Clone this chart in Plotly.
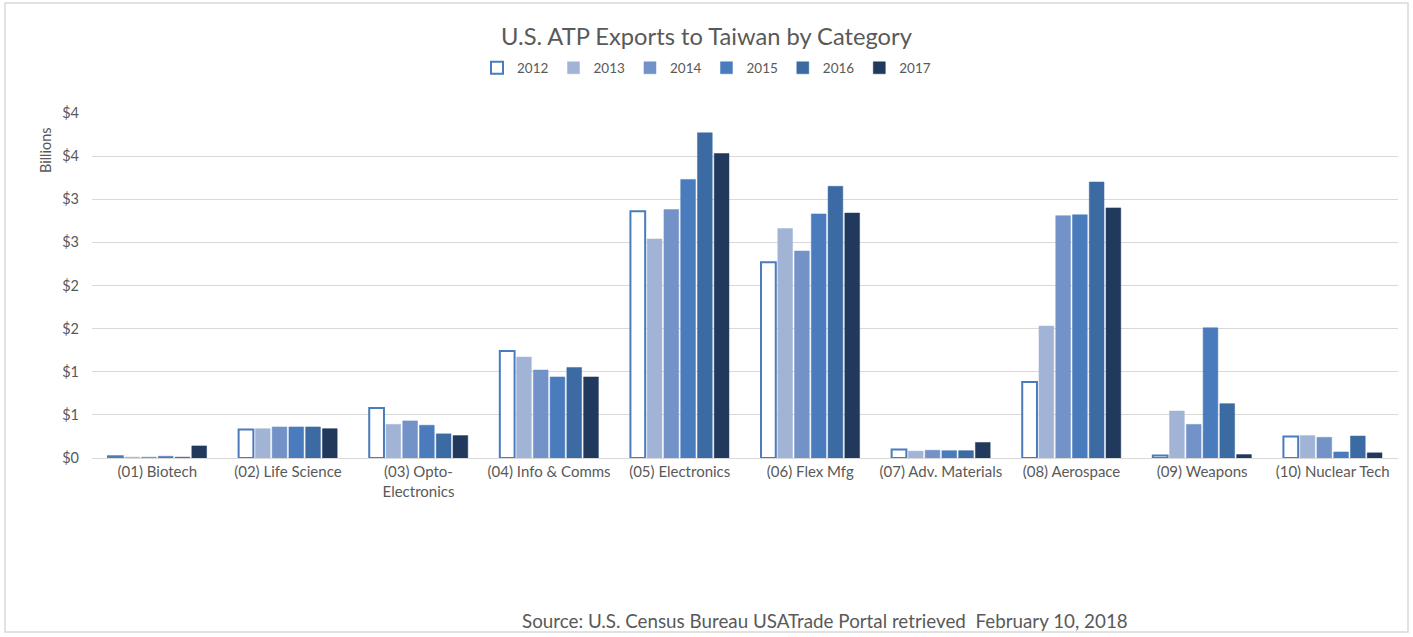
import plotly.graph_objects as go

categories = ["(01) Biotech", "(02) Life Science", "(03) Opto-<br>Electronics", "(04) Info & Comms",
              "(05) Electronics", "(06) Flex Mfg", "(07) Adv. Materials", "(08) Aerospace",
              "(09) Weapons", "(10) Nuclear Tech"]
years = ["2012", "2013", "2014", "2015", "2016", "2017"]

v2012 = [0.02, 0.33, 0.58, 1.24, 2.86, 2.27, 0.10, 0.88, 0.03, 0.25]
v2013 = [0.01, 0.34, 0.39, 1.17, 2.54, 2.66, 0.08, 1.53, 0.545, 0.26]
v2014 = [0.01, 0.36, 0.43, 1.02, 2.88, 2.40, 0.09, 2.81, 0.39, 0.24]
v2015 = [0.02, 0.36, 0.38, 0.94, 3.23, 2.83, 0.085, 2.82, 1.51, 0.07]
v2016 = [0.01, 0.36, 0.28, 1.05, 3.77, 3.15, 0.085, 3.20, 0.63, 0.255]
v2017 = [0.14, 0.34, 0.26, 0.94, 3.53, 2.84, 0.18, 2.90, 0.04, 0.06]

series = [v2012, v2013, v2014, v2015, v2016, v2017]
fills = ["#ffffff", "#a2b4d6", "#7392c8", "#4a7cbd", "#3c6aa3", "#22395e"]
lines = ["#4a7cbd", "#a2b4d6", "#7392c8", "#4a7cbd", "#3c6aa3", "#22395e"]

tickvals = [0, 0.5, 1, 1.5, 2, 2.5, 3, 3.5, 4]
ticktext = ["$0", "$1", "$1", "$2", "$2", "$3", "$3", "$4", "$4"]

font = "Lato, 'Open Sans', sans-serif"
gray = "#595959"

W, H = 1413, 637
L, R, T, B = 92, 15, 113, 179
PW = W - L - R
PH = H - T - B


def px(x):
    return (x - L) / PW


def py(y):
    return (H - B - y) / PH


fig = go.Figure()
for y, vals, fc, lc in zip(years, series, fills, lines):
    fig.add_trace(go.Bar(x=categories, y=vals, name=y,
                         marker=dict(color=fc, line=dict(color=lc, width=2 if y == "2012" else 0.5))))

fig.update_layout(
    width=W, height=H,
    paper_bgcolor="white", plot_bgcolor="white",
    margin=dict(l=L, r=R, t=T, b=B),
    barmode="group", bargap=0.23, bargroupgap=0.12,
    font=dict(family=font, color=gray, size=15),
    title=dict(text="U.S. ATP Exports to Taiwan by Category", x=(W / 2 - L) / PW, xref="paper",
               xanchor="center",
               y=1 - 37 / H, yref="container", yanchor="middle",
               font=dict(size=23.7, color=gray, family=font)),
    legend=dict(orientation="h", x=0.5, xref="container", xanchor="center",
                y=1 - 68 / H, yref="container", yanchor="middle",
                font=dict(size=13.5, color=gray), itemwidth=30, traceorder="normal"),
    showlegend=True,
)
fig.update_yaxes(range=[0, 4], tickvals=tickvals, ticktext=ticktext,
                 showgrid=True, gridcolor="#d9d9d9", gridwidth=1,
                 zeroline=False, showline=False, ticks="", ticklen=0, ticklabelstandoff=12,
                 tickfont=dict(size=14.5, color=gray))
fig.update_xaxes(showline=True, linecolor="#d9d9d9", linewidth=1, ticks="",
                 tickfont=dict(size=15, color=gray))

fig.add_annotation(text="Billions", textangle=-90, x=px(45), y=py(150), xref="paper", yref="paper",
                   xanchor="center", yanchor="middle",
                   showarrow=False, font=dict(size=14.5, color=gray))

fig.add_annotation(text="Source: U.S. Census Bureau USATrade Portal retrieved  February 10, 2018",
                   xref="paper", yref="paper", x=px(825), y=py(620), showarrow=False,
                   xanchor="center", yanchor="middle",
                   font=dict(size=18.8, color=gray))

fig.add_shape(type="rect", xref="paper", yref="paper",
              x0=px(5), x1=px(1408), y0=py(632), y1=py(3),
              line=dict(color="#d9d9d9", width=1.5), fillcolor="rgba(0,0,0,0)", layer="below")

fig.write_html("out.html", config={"displayModeBar": False},
               post_script="document.body.style.margin='0';document.body.style.overflow='hidden';")
